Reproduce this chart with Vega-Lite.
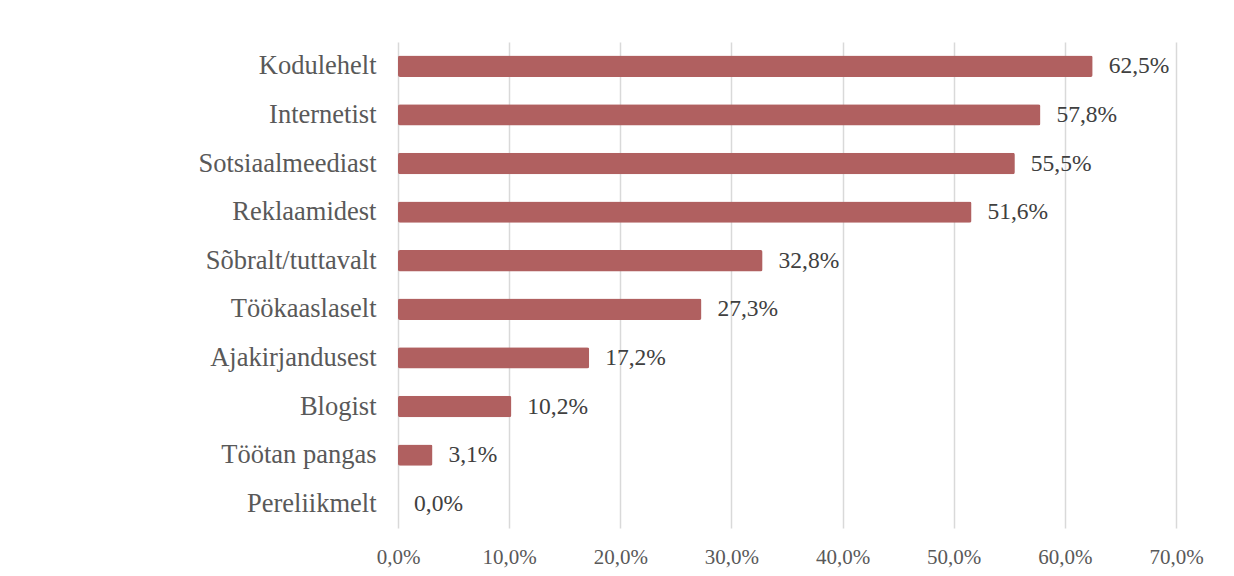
{
  "$schema": "https://vega.github.io/schema/vega-lite/v6.json",
  "width": 778,
  "height": 486,
  "autosize": "none",
  "padding": {"left": 398, "top": 42, "right": 58, "bottom": 48},
  "background": "white",
  "config": {
    "locale": {"number": {"decimal": ",", "thousands": " ", "grouping": [3], "currency": ["", " €"]}},
    "view": {"stroke": null},
    "font": "Liberation Serif",
    "text": {"font": "Liberation Serif"}
  },
  "data": {
    "values": [
      {"source": "Kodulehelt", "share": 0.625},
      {"source": "Internetist", "share": 0.578},
      {"source": "Sotsiaalmeediast", "share": 0.555},
      {"source": "Reklaamidest", "share": 0.516},
      {"source": "Sõbralt/tuttavalt", "share": 0.328},
      {"source": "Töökaaslaselt", "share": 0.273},
      {"source": "Ajakirjandusest", "share": 0.172},
      {"source": "Blogist", "share": 0.102},
      {"source": "Töötan pangas", "share": 0.031},
      {"source": "Pereliikmelt", "share": 0.0}
    ]
  },
  "encoding": {
    "y": {
      "field": "source",
      "type": "nominal",
      "sort": null,
      "scale": {"paddingInner": 0.56, "paddingOuter": 0.28},
      "axis": {
        "title": null,
        "ticks": false,
        "domain": false,
        "labelFontSize": 26.5,
        "labelColor": "#595959",
        "labelPadding": 22,
        "labelFont": "Liberation Serif"
      }
    },
    "x": {
      "field": "share",
      "type": "quantitative",
      "scale": {"domain": [0, 0.7], "nice": false},
      "axis": {
        "title": null,
        "values": [0, 0.1, 0.2, 0.3, 0.4, 0.5, 0.6, 0.7],
        "format": ".1%",
        "grid": true,
        "gridColor": "#d9d9d9",
        "gridWidth": 1.5,
        "ticks": false,
        "domain": false,
        "labelFlush": false,
        "labelFontSize": 21,
        "labelColor": "#595959",
        "labelPadding": 18,
        "labelFont": "Liberation Serif"
      }
    }
  },
  "layer": [
    {"mark": {"type": "bar", "color": "#B06060", "cornerRadius": 2}},
    {
      "mark": {"type": "text", "align": "left", "baseline": "middle", "dx": 16, "fontSize": 23.5, "color": "#404040", "font": "Liberation Serif"},
      "encoding": {"text": {"field": "share", "type": "quantitative", "format": ".1%"}}
    }
  ]
}
